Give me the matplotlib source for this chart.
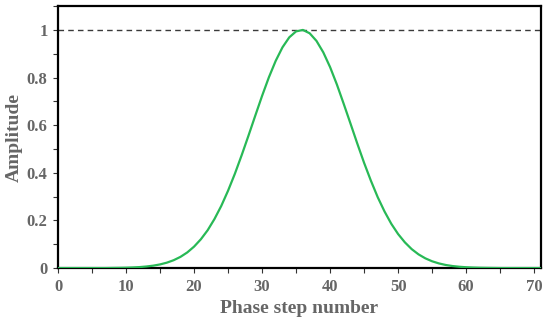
import numpy as np
import matplotlib
matplotlib.use("Agg")
import matplotlib.pyplot as plt
from matplotlib.ticker import MultipleLocator, FixedLocator

# phase step index and measured amplitude
steps = list(range(0, 72))
amplitude = [
    0, 0, 0, 0, 0, 0, 0, 0, 0.0005, 0.0009,
    0.0015, 0.0026, 0.0042, 0.0067, 0.0102, 0.0154, 0.0228, 0.0331, 0.0471, 0.0657,
    0.0901, 0.121, 0.159, 0.206, 0.261, 0.325, 0.396, 0.474, 0.556, 0.640,
    0.723, 0.801, 0.870, 0.927, 0.969, 0.994, 1.000, 0.986, 0.954, 0.906,
    0.844, 0.771, 0.690, 0.607, 0.523, 0.442, 0.367, 0.298, 0.238, 0.186,
    0.143, 0.108, 0.0796, 0.0577, 0.0410, 0.0286, 0.0196, 0.0131, 0.0086, 0.0056,
    0.0035, 0.0022, 0.0013, 0.0008, 0.0004, 0, 0, 0, 0, 0,
    0, 0,
]
ref_level = 1.0

xticks = [0, 10, 20, 30, 40, 50, 60, 70]
yticks = [0, 0.2, 0.4, 0.6, 0.8, 1.0]
ytick_labels = ["0", "0.2", "0.4", "0.6", "0.8", "1"]

txt = "#666666"
plt.rcParams["font.family"] = ["Liberation Serif", "DejaVu Serif"]
plt.rcParams["font.weight"] = "bold"

fig = plt.figure(figsize=(5.5, 3.23), dpi=100)
ax = fig.add_axes([0.1055, 0.170, 0.878, 0.811])

ax.plot(steps, amplitude, color="#28b956", lw=1.6, zorder=3)
ax.axhline(ref_level, color="#3a3a3a", lw=1.0, ls=(0, (4, 3)), zorder=2)

ax.set_xlim(0, 71)
ax.set_ylim(0, 1.1)
ax.xaxis.set_major_locator(FixedLocator(xticks))
ax.xaxis.set_minor_locator(MultipleLocator(5))
ax.yaxis.set_major_locator(FixedLocator(yticks))
ax.yaxis.set_minor_locator(MultipleLocator(0.1))
ax.set_yticklabels(ytick_labels)

ax.tick_params(which="both", direction="out", length=3.5, width=0.8, color="#333333",
               labelsize=12, labelcolor=txt, pad=4)
for lab in ax.get_xticklabels() + ax.get_yticklabels():
    lab.set_fontweight("bold")

for s in ax.spines.values():
    s.set_linewidth(1.6)
    s.set_color("black")

ax.set_xlabel("Phase step number", fontsize=14, fontweight="bold", color=txt, labelpad=4)
ax.set_ylabel("Amplitude", fontsize=14, fontweight="bold", color=txt, labelpad=3)

fig.savefig("out.png", dpi=100)
